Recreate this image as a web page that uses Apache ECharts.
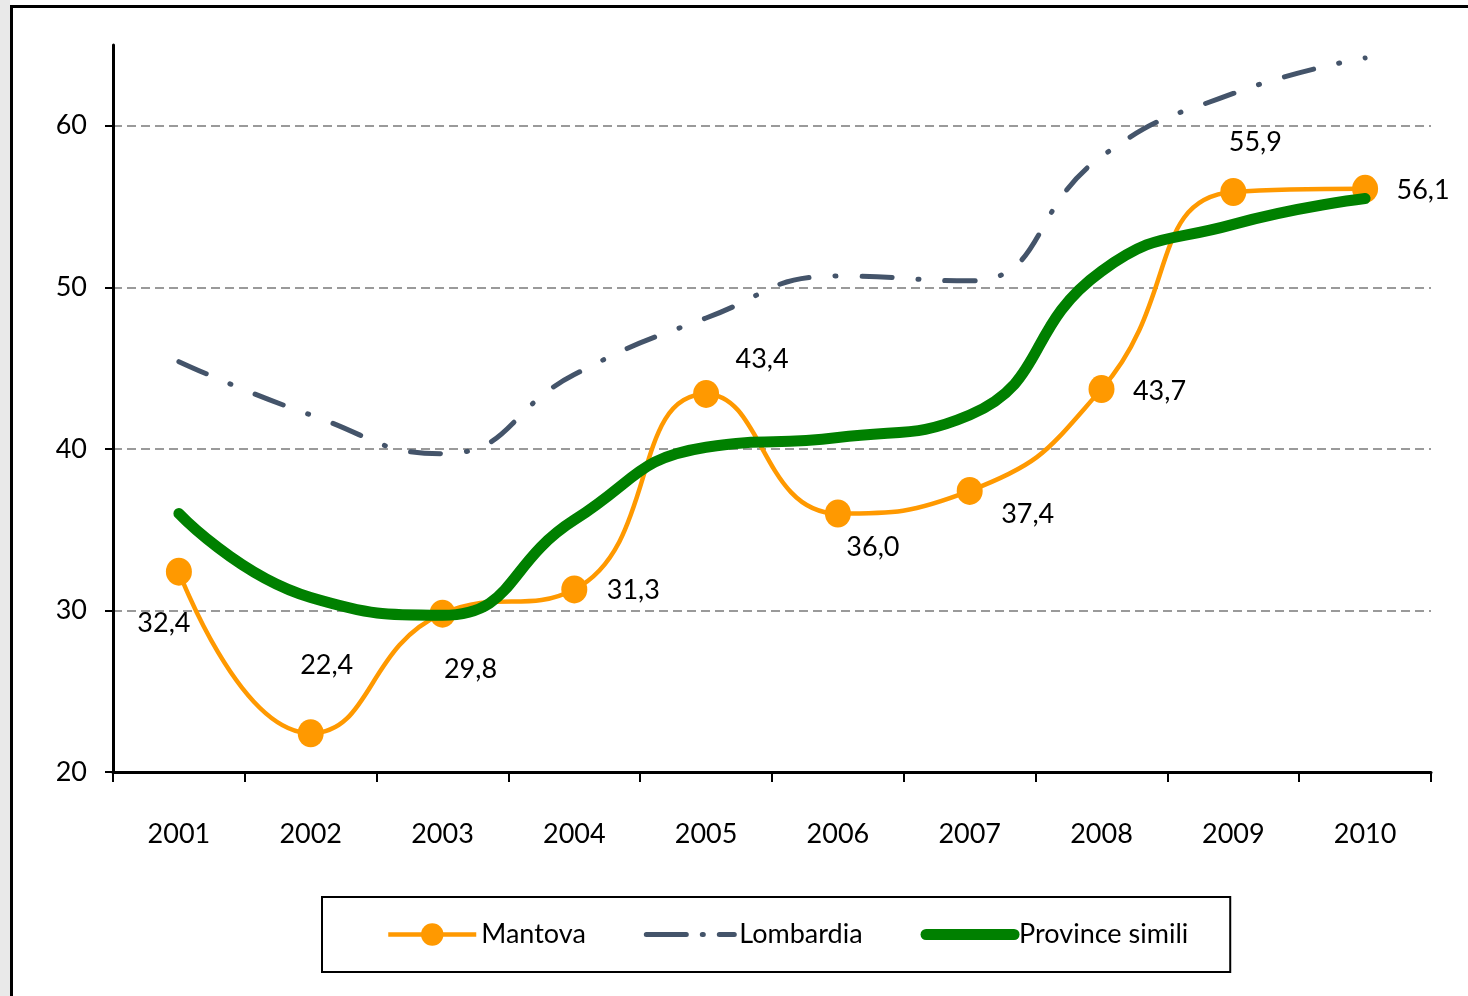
<!DOCTYPE html>
<html>
<head>
<meta charset="utf-8">
<script src="https://cdn.jsdelivr.net/npm/echarts@6/dist/echarts.min.js"></script>
<style>
  html, body { margin: 0; padding: 0; background: #fff; }
  #chart { width: 1468px; height: 996px; }
</style>
</head>
<body>
<div id="chart"></div>
<script>
var years = ['2001', '2002', '2003', '2004', '2005', '2006', '2007', '2008', '2009', '2010'];
var mantova = [32.4, 22.4, 29.8, 31.3, 43.4, 36.0, 37.4, 43.7, 55.9, 56.1];
var lombardia = [45.4, 42.1, 39.7, 44.6, 48.1, 50.7, 50.4, 58.1, 62.0, 64.2];
var simili = [36.0, 30.8, 29.7, 35.6, 40.1, 40.7, 42.1, 51.0, 53.9, 55.5];
var yTicks = [20, 30, 40, 50, 60];
// where each Mantova label sits, relative to its point
var labelOffsets = [[-15, 52], [16, -68], [28, 56], [59, 1], [56, -35],
	[35, 34], [58, 23], [58, 2], [22, -50], [58, 2]];

var font = 'Lato';

var mantovaData = [];
for (var i = 0; i < mantova.length; i++) {
	mantovaData.push({
		value: mantova[i],
		label: { offset: labelOffsets[i] }
	});
}

var chart = echarts.init(document.getElementById('chart'));
var option = {
	animation: false,
	textStyle: { fontFamily: font },
	graphic: [
		{ type: 'rect', shape: { x: 0, y: 0, width: 10, height: 996 },
			style: { fill: '#e9e9e9' }, z: -1 },
		{ type: 'rect', shape: { x: 11.5, y: 6.5, width: 1470, height: 1000 },
			style: { fill: 'none', stroke: '#000', lineWidth: 3 }, z: -1 }
	],
	grid: { left: 113, right: 37, top: 45, bottom: 224 },
	legend: {
		left: 322,
		top: 897,
		padding: [24, 42, 24, 64],
		borderColor: '#000',
		borderWidth: 2,
		itemWidth: 88,
		itemHeight: 28,
		itemGap: 58,
		lineStyle: { width: 'inherit' },
		textStyle: { fontSize: 27, color: '#000', fontFamily: font },
		data: [
			{ name: 'Mantova' },
			{ name: 'Lombardia', itemStyle: { opacity: 0 },
				lineStyle: { type: [40, 16, 1, 16] } },
			{ name: 'Province simili', itemStyle: { opacity: 0 } }
		]
	},
	xAxis: {
		type: 'category',
		data: years,
		boundaryGap: true,
		axisLine: { lineStyle: { color: '#000', width: 3 } },
		axisTick: { show: true, length: 10, lineStyle: { color: '#000', width: 2 } },
		axisLabel: { fontSize: 27, color: '#000', margin: 49 },
		splitLine: { show: false }
	},
	yAxis: {
		type: 'value',
		min: 20,
		max: 65,
		interval: 10,
		axisLine: { show: true, lineStyle: { color: '#000', width: 3 } },
		axisTick: { show: true, length: 8, customValues: yTicks,
			lineStyle: { color: '#000', width: 2 } },
		axisLabel: { fontSize: 27, color: '#000', margin: 26, customValues: yTicks },
		splitLine: { show: true,
			lineStyle: { color: '#9a9a9a', width: 2, type: [9, 5] } }
	},
	series: [
		{
			name: 'Mantova',
			type: 'line',
			smooth: 0.5,
			data: mantovaData,
			symbol: 'circle',
			symbolSize: [26, 28],
			itemStyle: { color: '#ff9900' },
			lineStyle: { color: '#ff9900', width: 4.5 },
			label: {
				show: true,
				position: 'inside',
				fontSize: 27,
				color: '#000',
				fontFamily: font,
				formatter: function(p) {
					return p.value.toFixed(1).replace('.', ',');
				}
			},
			z: 2
		},
		{
			name: 'Lombardia',
			type: 'line',
			smooth: 0.5,
			data: lombardia,
			showSymbol: false,
			symbol: 'none',
			itemStyle: { color: '#44546a' },
			lineStyle: { color: '#44546a', width: 5, type: [30, 26, 1, 26], cap: 'round' },
			z: 3
		},
		{
			name: 'Province simili',
			type: 'line',
			smooth: 0.5,
			data: simili,
			showSymbol: false,
			symbol: 'none',
			itemStyle: { color: '#008000' },
			lineStyle: { color: '#008000', width: 11, cap: 'round' },
			z: 4
		}
	]
};
chart.setOption(option);
</script>
</body>
</html>
